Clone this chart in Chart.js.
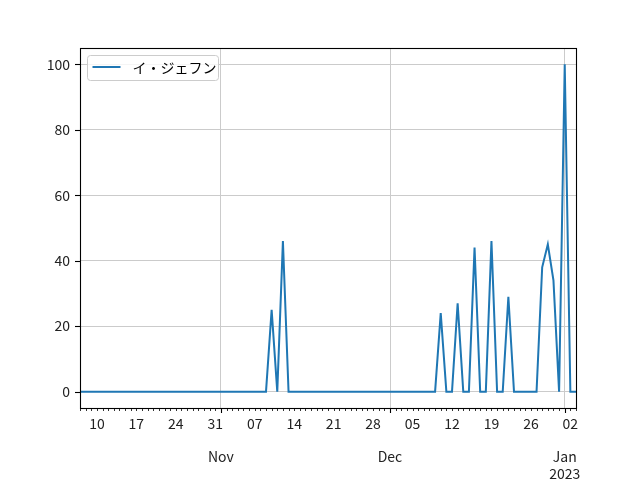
<!DOCTYPE html>
<html>
<head>
<meta charset="utf-8">
<script src="https://cdn.jsdelivr.net/npm/chart.js@4.4.0/dist/chart.umd.min.js"></script>
<style>
  body { margin: 0; background: #fff; }
  canvas { display: block; }
</style>
</head>
<body>
<canvas id="chart" width="640" height="480"></canvas>
<script>
/* data */
const seriesLabel = "イ・ジェフン";
const startDate = "2022-10-07";
// one value per day, 2022-10-07 .. 2023-01-03
const values = [
  0, 0, 0, 0, 0, 0, 0, 0, 0, 0, 0, 0, 0, 0, 0, 0, 0, 0, 0, 0, 0, 0, 0, 0, 0, // Oct 7-31
  0, 0, 0, 0, 0, 0, 0, 0, 0, 25, 0, 46, 0, 0, 0, 0, 0, 0, 0, 0, 0, 0,      // Nov 1-22
  0, 0, 0, 0, 0, 0, 0, 0,                                                  // Nov 23-30
  0, 0, 0, 0, 0, 0, 0, 0, 0, 24, 0, 0, 27, 0, 0, 44, 0, 0, 46, 0, 0, 29,   // Dec 1-22
  0, 0, 0, 0, 0, 38, 45, 34, 0,                                            // Dec 23-31
  100, 0, 0,                                                               // Jan 1-3
];
const yTicks = [0, 20, 40, 60, 80, 100];
const dayTickLabels = ["10", "17", "24", "31", "07", "14", "21", "28", "05", "12", "19", "26", "02"];
const dayTickDates = ["2022-10-10", "2022-10-17", "2022-10-24", "2022-10-31", "2022-11-07", "2022-11-14",
  "2022-11-21", "2022-11-28", "2022-12-05", "2022-12-12", "2022-12-19", "2022-12-26", "2023-01-02"];
const monthTickDates = ["2022-11-01", "2022-12-01", "2023-01-01"];
const monthTickLabels = [["Nov"], ["Dec"], ["Jan", "2023"]];

const dates = values.map((_, i) => {
  const d = new Date(startDate + "T00:00:00Z");
  d.setUTCDate(d.getUTCDate() + i);
  return d.toISOString().slice(0, 10);
});

const FONT = "'Noto Sans CJK JP', 'Noto Sans', sans-serif";
const GRID = "#cbcbcb";
const isMonth = (i) => monthTickDates.includes(dates[i]);

const axisDecor = {
  id: "axisDecor",
  afterDraw(chart) {
    const { ctx, chartArea: { left, right, top, bottom }, scales: { x, y } } = chart;
    ctx.save();
    ctx.strokeStyle = "#000";
    dates.forEach((d, i) => {
      const px = Math.round(x.getPixelForValue(i)) + 0.5;
      const major = isMonth(i);
      ctx.lineWidth = major ? 1.1 : 0.8;
      ctx.beginPath();
      ctx.moveTo(px, bottom);
      ctx.lineTo(px, bottom + (major ? 5 : 3));
      ctx.stroke();
    });
    ctx.lineWidth = 1.1;
    yTicks.forEach((v) => {
      const py = Math.round(y.getPixelForValue(v)) + 0.5;
      ctx.beginPath();
      ctx.moveTo(left, py);
      ctx.lineTo(left - 5, py);
      ctx.stroke();
    });
    ctx.strokeRect(Math.round(left) + 0.5, Math.round(top) + 0.5,
      Math.round(right - left), Math.round(bottom - top));

    // legend in the upper left corner
    const ds = chart.data.datasets[0];
    const bx = left + 7.5, by = top + 7.5, bw = 131, bh = 25;
    ctx.beginPath();
    ctx.roundRect(bx, by, bw, bh, 3);
    ctx.fillStyle = "rgba(255,255,255,0.8)";
    ctx.fill();
    ctx.strokeStyle = "#cccccc";
    ctx.lineWidth = 1;
    ctx.stroke();
    ctx.strokeStyle = ds.borderColor;
    ctx.lineWidth = 2;
    ctx.beginPath();
    ctx.moveTo(bx + 5, by + 11.5);
    ctx.lineTo(bx + 33, by + 11.5);
    ctx.stroke();
    ctx.fillStyle = "#000";
    ctx.font = "14px " + FONT;
    ctx.textBaseline = "middle";
    ctx.fillText(ds.label, bx + 45, by + 12);
    ctx.restore();
  },
};

new Chart(document.getElementById("chart"), {
  type: "line",
  data: {
    labels: dates,
    datasets: [{
      label: seriesLabel,
      data: values,
      borderColor: "#1f77b4",
      borderWidth: 2,
      pointRadius: 0,
      tension: 0,
    }],
  },
  options: {
    responsive: false,
    animation: false,
    devicePixelRatio: 1,
    layout: { padding: { top: 48, right: 64, left: 0, bottom: 0 } },
    plugins: {
      legend: { display: false },
      tooltip: { enabled: false },
    },
    scales: {
      x: {
        type: "category",
        offset: false,
        afterFit: (scale) => { scale.height = 72; },
        border: { display: false },
        grid: {
          drawTicks: false,
          lineWidth: 1,
          color: (c) => (isMonth(c.index) ? GRID : "rgba(0,0,0,0)"),
        },
        ticks: {
          autoSkip: false,
          maxRotation: 0,
          padding: 7,
          color: "#222",
          font: { family: FONT, size: 14 },
          callback: (value, index) => {
            const m = monthTickDates.indexOf(dates[index]);
            if (m >= 0) return ["", ""].concat(monthTickLabels[m]);
            const k = dayTickDates.indexOf(dates[index]);
            return k >= 0 ? dayTickLabels[k] : "";
          },
        },
      },
      y: {
        min: -5,
        max: 105,
        afterFit: (scale) => { scale.width = 80; },
        afterBuildTicks: (scale) => { scale.ticks = yTicks.map((v) => ({ value: v })); },
        border: { display: false },
        grid: { drawTicks: false, lineWidth: 1, color: GRID },
        ticks: {
          padding: 10,
          color: "#222",
          font: { family: FONT, size: 14 },
        },
      },
    },
  },
  plugins: [axisDecor],
});
</script>
</body>
</html>
